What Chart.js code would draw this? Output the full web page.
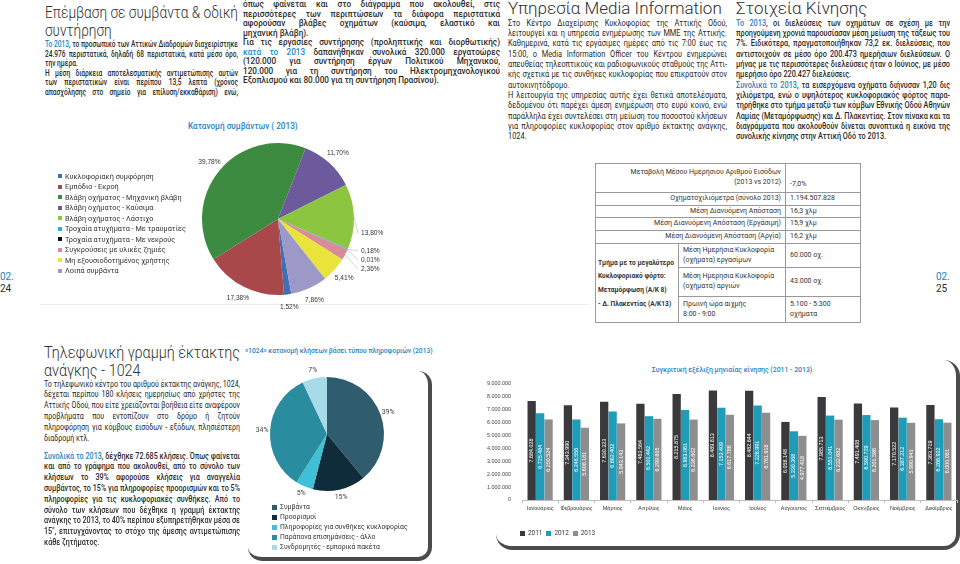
<!DOCTYPE html>
<html>
<head>
<meta charset="utf-8">
<script src="https://cdn.jsdelivr.net/npm/chart.js@4.4.0/dist/chart.umd.min.js"></script>
<style>
  body { margin: 0; width: 960px; height: 564px; position: relative; overflow: hidden; background: #fff;
         font-family: Roboto, "Noto Sans", sans-serif; color: #2a2a2a; }
  .a { position: absolute; }
  .ln { display: inline-block; white-space: nowrap; transform-origin: 0 50%; }
  .ttl { font-size: 17px; font-weight: 300; color: #2f2f2f; }
  .bd { font-size: 8.2px; font-weight: 500; }
  .rg { font-size: 8.2px; font-weight: 400; }
  .bl { color: #1f86c4; }
  .leg div { display: flex; align-items: center; white-space: nowrap; }
  .leg i { display: inline-block; margin-right: 3px; }
  table { border-collapse: collapse; font-size: 7px; color: #333; table-layout: fixed; }
  td { border: 0.8px solid #9a9a9a; padding: 0 4px; line-height: 9.6px; white-space: nowrap; overflow: hidden; }
  .card { position: absolute; border-right: 4px solid #4b4b4b; border-bottom: 4px solid #4b4b4b; box-sizing: border-box; }
</style>
</head>
<body>

<div class="a" style="left:40px;top:304px;width:548px;height:1px;background:#ececec"></div>

<div class="a" style="left:0;top:271px;font-size:10px;line-height:12px"><span class="bl">02.</span><br>24</div>
<div class="a" style="left:936px;top:271px;font-size:10px;line-height:12px"><span class="bl">02.</span><br>25</div>

<div class="a bd bl" style="left:188px;top:121px;font-size:8.2px">Κατανομή συμβάντων ( 2013)</div>
<div class="a bd bl" style="left:245px;top:347px;font-size:6.7px">«1024» κατανομή κλήσεων βάσει τύπου πληροφοριών (2013)</div>
<div class="a bd bl" style="left:560px;top:366px;width:344px;text-align:center;font-size:6.9px">Συγκριτική εξέλιξη μηνιαίας κίνησης (2011 - 2013)</div>

<div class="card" style="left:248px;top:371px;width:184px;height:190px;border-radius:0 14px 14px 14px"></div>
<div class="card" style="left:496px;top:360px;width:464px;height:190px;border-radius:0 16px 16px 16px"></div>

<canvas id="pieA" class="a" width="240" height="180" style="left:158px;top:129px"></canvas>
<canvas id="pieB" class="a" width="160" height="140" style="left:247px;top:364px"></canvas>
<canvas id="bars" class="a" width="490" height="136" style="left:470px;top:376px"></canvas>

<div id="legA" class="a leg" style="left:58px;top:171px;font-size:7.3px;color:#333"></div>
<div id="legB" class="a leg" style="left:272px;top:502px;font-size:6.8px;color:#333"></div>
<div id="legC" class="a leg" style="left:520px;top:529px;font-size:6.4px;color:#333;display:flex"></div>

<table class="a" style="left:595px;top:163px;width:265px">
  <colgroup><col style="width:83px"><col style="width:107px"><col style="width:75px"></colgroup>
  <tr style="height:29px"><td colspan="2" style="text-align:right">Μεταβολή Μέσου Ημερήσιου Αριθμού Εισόδων<br>(2013 vs 2012)</td><td style="vertical-align:bottom;padding-bottom:2px">-7,0%</td></tr>
  <tr style="height:13px"><td colspan="2" style="text-align:right">Οχηματοχιλιόμετρα (σύνολο 2013)</td><td>1.194.507.828</td></tr>
  <tr style="height:12px"><td colspan="2" style="text-align:right">Μέση Διανυόμενη Απόσταση</td><td>16,3 χλμ</td></tr>
  <tr style="height:13px"><td colspan="2" style="text-align:right">Μέση Διανυόμενη Απόσταση (Εργάσιμη)</td><td>15,9 χλμ</td></tr>
  <tr style="height:13px"><td colspan="2" style="text-align:right">Μέση Διανυόμενη Απόσταση (Αργία)</td><td>16,2 χλμ</td></tr>
  <tr style="height:24px"><td rowspan="3" style="font-weight:700;font-size:6.6px;line-height:13.7px;padding:2px 0 0 2px;vertical-align:middle">Τμήμα με το μεγαλύτερο<br>Κυκλοφοριακό φόρτο:<br>Μεταμόρφωση (Α/Κ 8)<br>- Δ. Πλακεντίας (Α/Κ13)</td><td>Μέση Ημερήσια Κυκλοφορία<br>(οχήματα) εργασίμων</td><td>60.000 οχ.</td></tr>
  <tr style="height:29px"><td>Μέση Ημερησια Κυκλοφορία<br>(οχήματα) αργιών</td><td>43.000 οχ.</td></tr>
  <tr style="height:26px"><td>Πρωινή ώρα αιχμής<br>8:00 - 9:00</td><td>5.100 - 5.300<br>οχήματα</td></tr>
</table>

<script>
// incidents 2013 (pie, %)
const incidentTypes = ['Κυκλοφοριακή συμφόρηση', 'Εμπόδιο - Εκροή', 'Βλάβη οχήματος - Μηχανική βλάβη',
  'Βλάβη οχήματος - Καύσιμα', 'Βλάβη οχήματος - Λάστιχο', 'Τροχαία ατυχήματα - Με τραυματίες',
  'Τροχαία ατυχήματα - Με νεκρούς', 'Συγκρούσεις με υλικές ζημιές', 'Μη εξουσιοδοτημένος χρήστης', 'Λοιπά συμβάντα'];
const incidentShares = [1.52, 17.38, 39.78, 11.70, 13.80, 0.18, 0.01, 2.36, 5.41, 7.86];

// 1024 calls by type (pie, %)
const callTypes = ['Συμβάντα', 'Προορισμοί', 'Πληροφορίες για συνθήκες κυκλοφορίας', 'Παράπονα επισημάνσεις - άλλο', 'Συνδρομητές - εμπορικά πακέτα'];
const callShares = [39, 15, 5, 34, 7];

// monthly traffic
const months = ['Ιανουάριος', 'Φεβρουάριος', 'Μάρτιος', 'Απρίλιος', 'Μάιος', 'Ιούνιος',
  'Ιούλιος', 'Αύγουστος', 'Σεπτέμβριος', 'Οκτώβριος', 'Νοέμβριος', 'Δεκέμβριος'];
const years = ['2011', '2012', '2013'];
const traffic2011 = [7684028, 7343990, 7630323, 7463564, 8215875, 8489813, 8482844, 6058148, 7985713, 7491408, 7170522, 7363719];
const traffic2012 = [6725484, 6246556, 6862402, 6501442, 6983061, 7153409, 7326991, 5330368, 6551041, 6590729, 6387212, 6266922];
const traffic2013 = [6250524, 5608181, 5943143, 6299605, 6236802, 6617786, 6761918, 4977418, 6232682, 6201596, 5990943, 6000081];

const incidentColors = ['#3f6fb4', '#a9484a', '#3d8b40', '#6d5a9c', '#8cc540', '#27aedc', '#111111', '#d98b96', '#e9e43c', '#9c98c8'];
const callColors = ['#2f5d6d', '#0f2c3b', '#3fc0d6', '#2a8c9f', '#a7dbe7'];
const yearColors = ['#3a3a3c', '#1f9cb7', '#8e8e8e'];

// ---- text blocks: one row per printed line, one horizontal scale per block, then justified
function textBlock(x, y, w, lh, cls, lines) {
  const box = document.createElement('div');
  box.className = 'a ' + cls;
  box.style.cssText = `left:${x}px;top:${y}px;width:${w}px;line-height:${lh}px`;
  document.body.appendChild(box);
  const rows = lines.map(s => {
    const last = s.endsWith('¶');
    const row = document.createElement('div');
    row.style.height = lh + 'px';
    const sp = document.createElement('span');
    sp.className = 'ln';
    sp.innerHTML = last ? s.slice(0, -1) : s;
    row.appendChild(sp);
    box.appendChild(row);
    return { sp, last, nat: sp.getBoundingClientRect().width };
  });
  const widest = Math.max(...rows.filter(r => !r.last).map(r => r.nat), ...rows.map(r => r.nat * 0.9));
  const k = Math.min(1, w / widest);
  rows.forEach(r => {
    if (k < 1) r.sp.style.transform = `scaleX(${k})`;
    if (!r.last) {
      const n = (r.sp.textContent.match(/ /g) || []).length;
      if (n) r.sp.style.wordSpacing = (w / k - r.nat) / n + 'px';
    }
  });
}

textBlock(45, 3, 193, 18, 'ttl', ['Επέμβαση σε συμβάντα & οδική', 'συντήρηση¶']);
textBlock(45, 40, 193, 9.6, 'bd', [
  '<span class="bl">Το 2013</span>, το προσωπικό των Αττικών Διαδρομών διαχειρίστηκε',
  '24.976 περιστατικά, δηλαδή 68 περιστατικά, κατά μέσο όρο,',
  'την ημέρα.¶',
  'Η μέση διάρκεια αποτελεσματικής αντιμετώπισης αυτών',
  'των περιστατικών είναι περίπου 13,5 λεπτά (χρόνος',
  'απασχόλησης στο σημείο για επίλυση/εκκαθάριση) ενώ,']);
textBlock(243, 0.3, 257, 9.5, 'bd', [
  'όπως φαίνεται και στο διάγραμμα που ακολουθεί, στις',
  'περισσότερες των περιπτώσεων τα διάφορα περιστατικά',
  'αφορούσαν βλάβες οχημάτων (καύσιμα, ελαστικό και',
  'μηχανική βλάβη).¶',
  'Για τις εργασίες συντήρησης (προληπτικής και διορθωτικής)',
  '<span class="bl">κατά το 2013</span> δαπανήθηκαν συνολικά 320.000 εργατοώρες',
  '(120.000 για συντήρηση έργων Πολιτικού Μηχανικού,',
  '120.000 για τη συντήρηση του Ηλεκτρομηχανολογικού',
  'Εξοπλισμού και 80.000 για τη συντήρηση Πρασίνου).¶']);
textBlock(508, -1, 400, 18, 'ttl', ['Υπηρεσία Media Information¶']);
textBlock(508, 17.9, 219, 10.3, 'rg', [
  'Στο Κέντρο Διαχείρισης Κυκλοφορίας της Αττικής Οδού,',
  'λειτουργεί και η υπηρεσία ενημέρωσης των ΜΜΕ της Αττικής.',
  'Καθημερινά, κατά τις εργάσιμες ημέρες από τις 7:00 έως τις',
  '15:00, ο Media Information Officer του Κέντρου ενημερώνει',
  'απευθείας τηλεοπτικούς και ραδιοφωνικούς σταθμούς της Αττι-',
  'κής σχετικά με τις συνθήκες κυκλοφορίας που επικρατούν στον',
  'αυτοκινητόδρομο.¶',
  'Η λειτουργία της υπηρεσίας αυτής έχει θετικά αποτελέσματα,',
  'δεδομένου ότι παρέχει άμεση ενημέρωση στο ευρύ κοινό, ενώ',
  'παράλληλα έχει συντελέσει στη μείωση του ποσοστού κλήσεων',
  'για πληροφορίες κυκλοφορίας στον αριθμό έκτακτης ανάγκης,',
  '1024.¶']);
textBlock(736, -1, 400, 18, 'ttl', ['Στοιχεία Κίνησης¶']);
textBlock(736, 17.9, 214, 10.3, 'bd', [
  '<span class="bl">Το 2013</span>, οι διελεύσεις των οχημάτων σε σχέση με την',
  'προηγούμενη χρονιά παρουσίασαν μέση μείωση της τάξεως του',
  '7%. Ειδικότερα, πραγματοποιήθηκαν 73,2 εκ. διελεύσεις, που',
  'αντιστοιχούν σε μέσο όρο 200.473 ημερήσιων διελεύσεων. Ο',
  'μήνας με τις περισσότερες διελεύσεις ήταν ο Ιούνιος, με μέσο',
  'ημερήσιο όρο 220.427 διελεύσεις.¶',
  '<span class="bl">Συνολικά το 2013</span>, τα εισερχόμενα οχήματα διήνυσαν 1,20 δις',
  'χιλιόμετρα, ενώ ο υψηλότερος κυκλοφοριακός φόρτος παρα-',
  'τηρήθηκε στο τμήμα μεταξύ των κόμβων Εθνικής Οδού Αθηνών',
  'Λαμίας (Μεταμόρφωσης) και Δ. Πλακεντίας. Στον πίνακα και τα',
  'διαγράμματα που ακολουθούν δίνεται συνοπτικά η εικόνα της',
  'συνολικής κίνησης στην Αττική Οδό το 2013.¶']);
textBlock(44, 343, 196, 18, 'ttl', ['Τηλεφωνική γραμμή έκτακτης', 'ανάγκης - 1024¶']);
textBlock(44, 378.7, 196, 10.8, 'rg', [
  'Το τηλεφωνικό κέντρο του αριθμού έκτακτης ανάγκης, 1024,',
  'δέχεται περίπου 180 κλήσεις ημερησίως από χρήστες της',
  'Αττικής Οδού, που είτε χρειάζονται βοήθεια είτε αναφέρουν',
  'προβλήματα που εντοπίζουν στο δρόμο ή ζητούν',
  'πληροφόρηση για κόμβους εισόδων - εξόδων, πλησιέστερη',
  'διαδρομή κτλ.¶']);
textBlock(44, 450.7, 196, 10.8, 'bd', [
  '<span class="bl">Συνολικά το 2013</span>, δέχθηκε 72.685 κλήσεις. Όπως φαίνεται',
  'και από το γράφημα που ακολουθεί, από το σύνολο των',
  'κλήσεων το 39% αφορούσε κλήσεις για αναγγελία',
  'συμβάντος, το 15% για πληροφορίες προορισμών και το 5%',
  'πληροφορίες για τις κυκλοφοριακές συνθήκες. Από το',
  'σύνολο των κλήσεων που δέχθηκε η γραμμή έκτακτης',
  'ανάγκης το 2013, το 40% περίπου εξυπηρετήθηκαν μέσα σε',
  '15", επιτυγχάνοντας το στόχο της άμεσης αντιμετώπισης',
  'κάθε ζητήματος.¶']);

// ---- legends
function legend(id, names, colors, size, rowH) {
  const el = document.getElementById(id);
  names.forEach((n, i) => {
    const d = document.createElement('div');
    if (rowH) d.style.height = rowH + 'px';
    else d.style.marginRight = '4px';
    d.innerHTML = `<i style="width:${size}px;height:${size}px;background:${colors[i]}"></i>${n}`;
    el.appendChild(d);
  });
}
legend('legA', incidentTypes, incidentColors, 4, 10.5);
legend('legB', callTypes, callColors, 5, 10);
legend('legC', years, yearColors, 5, 0);

// ---- chart helpers
const pct2 = v => v.toFixed(2).replace('.', ',') + '%';
const dots = v => String(v).replace(/\B(?=(\d{3})+(?!\d))/g, '.');

const pieLabels = {
  id: 'pieLabels',
  afterDatasetsDraw(chart, args, opts) {
    const ctx = chart.ctx;
    const vals = chart.data.datasets[0].data;
    ctx.save();
    ctx.font = opts.font;
    ctx.fillStyle = opts.color;
    ctx.textBaseline = 'middle';
    chart.getDatasetMeta(0).data.forEach((arc, i) => {
      const mid = (arc.startAngle + arc.endAngle) / 2;
      const r = arc.outerRadius;
      const txt = opts.format(vals[i]);
      const cy = opts.callouts ? opts.callouts[i] : undefined;
      if (cy !== undefined) {
        const lx = arc.x + r + 7, ly = arc.y + cy;
        ctx.strokeStyle = '#b8b8b8';
        ctx.lineWidth = 0.6;
        ctx.beginPath();
        ctx.moveTo(arc.x + Math.cos(mid) * r, arc.y + Math.sin(mid) * r);
        ctx.lineTo(lx - 3, ly);
        ctx.stroke();
        ctx.textAlign = 'left';
        ctx.fillText(txt, lx, ly);
      } else {
        const d = r + opts.offset;
        ctx.textAlign = 'center';
        ctx.fillText(txt, arc.x + Math.cos(mid) * d, arc.y + Math.sin(mid) * d);
      }
    });
    ctx.restore();
  }
};

new Chart(document.getElementById('pieA'), {
  type: 'pie',
  data: { labels: incidentTypes, datasets: [{ data: incidentShares, backgroundColor: incidentColors, borderWidth: 0 }] },
  options: {
    responsive: false, animation: false, events: [], rotation: 170,
    layout: { padding: { left: 44, right: 44, top: 14, bottom: 14 } },
    plugins: {
      legend: { display: false }, tooltip: { enabled: false },
      pieLabels: { font: '6.6px "Liberation Sans", Arial', color: '#333', offset: 13, format: pct2,
                   callouts: { 4: 14, 5: 32, 6: 41, 7: 50 } }
    }
  },
  plugins: [pieLabels]
});

new Chart(document.getElementById('pieB'), {
  type: 'pie',
  data: { labels: callTypes, datasets: [{ data: callShares, backgroundColor: callColors, borderWidth: 0 }] },
  options: {
    responsive: false, animation: false, events: [],
    layout: { padding: { left: 23, right: 23, top: 13, bottom: 13 } },
    plugins: {
      legend: { display: false }, tooltip: { enabled: false },
      pieLabels: { font: '7px Roboto, sans-serif', color: '#444', offset: 8, format: v => v + '%' }
    }
  },
  plugins: [pieLabels]
});

const barLabels = {
  id: 'barLabels',
  afterDatasetsDraw(chart) {
    const ctx = chart.ctx;
    ctx.save();
    ctx.font = '5.4px "Liberation Sans", Arial';
    ctx.fillStyle = '#fff';
    ctx.textAlign = 'center';
    ctx.textBaseline = 'middle';
    chart.data.datasets.forEach((ds, di) => {
      chart.getDatasetMeta(di).data.forEach((bar, i) => {
        ctx.save();
        ctx.translate(bar.x, (bar.y + bar.base) / 2);
        ctx.rotate(-Math.PI / 2);
        ctx.fillText(dots(ds.data[i]), 0, 0);
        ctx.restore();
      });
    });
    ctx.restore();
  }
};

new Chart(document.getElementById('bars'), {
  type: 'bar',
  data: {
    labels: months,
    datasets: [traffic2011, traffic2012, traffic2013].map((d, i) => ({
      label: years[i], data: d, backgroundColor: yearColors[i], categoryPercentage: 0.7, barPercentage: 0.98
    }))
  },
  options: {
    responsive: false, animation: false, events: [],
    layout: { padding: { top: 8, right: 3, left: 0, bottom: 0 } },
    plugins: { legend: { display: false }, tooltip: { enabled: false } },
    scales: {
      y: {
        min: 0, max: 9000000,
        ticks: { stepSize: 1000000, callback: v => dots(v), font: { size: 5.4, family: '"Liberation Sans", Arial' }, color: '#444', padding: 3 },
        grid: { display: false }, border: { display: false },
        afterFit: s => { s.width = 52; }
      },
      x: {
        ticks: { font: { size: 5.4, family: '"Liberation Sans", Arial' }, color: '#333', padding: 2,
                 maxRotation: 0, minRotation: 0, autoSkip: false },
        grid: { drawOnChartArea: false, tickLength: 3, color: '#bdbdbd' },
        border: { color: '#bdbdbd' },
        afterFit: s => { s.height = 12; }
      }
    }
  },
  plugins: [barLabels]
});
</script>
</body>
</html>
